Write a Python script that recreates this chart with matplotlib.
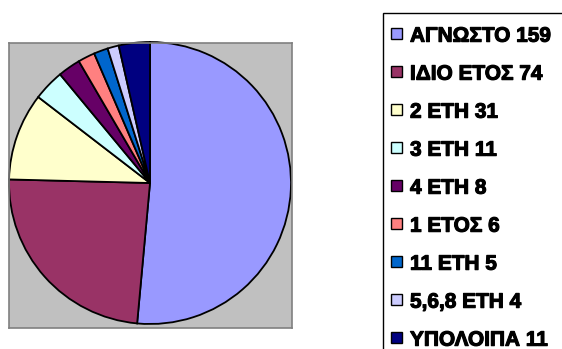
import matplotlib
matplotlib.use("Agg")
import matplotlib.pyplot as plt
import matplotlib.patheffects as pe
from matplotlib.patches import Rectangle
from matplotlib import font_manager as fm

categories = ["ΑΓΝΩΣΤΟ", "ΙΔΙΟ ΕΤΟΣ", "2 ΕΤΗ", "3 ΕΤΗ", "4 ΕΤΗ",
              "1 ΕΤΟΣ", "11 ΕΤΗ", "5,6,8 ΕΤΗ", "ΥΠΟΛΟΙΠΑ"]
values = [159, 74, 31, 11, 8, 6, 5, 4, 11]
colors = ["#9999FF", "#993366", "#FFFFCC", "#CCFFFF", "#660066",
          "#FF8080", "#0066CC", "#CCCCFF", "#000080"]

W, H = 562, 349
fig = plt.figure(figsize=(W / 100, H / 100), dpi=100)
fig.patch.set_facecolor("white")

# plot area (pixel box converted to figure fractions)
x0, y0, x1, y1 = 9, 43, 292, 328
ax = fig.add_axes([x0 / W, 1 - y1 / H, (x1 - x0) / W, (y1 - y0) / H])
ax.set_facecolor("#C0C0C0")
for s in ax.spines.values():
    s.set_color("#808080")
    s.set_linewidth(1.2)

ax.pie(values, colors=colors, startangle=90, counterclock=False,
       radius=1.0, wedgeprops=dict(edgecolor="black", linewidth=1.3))
ax.set_aspect("auto")
cx, cy, r = 150, 183, 141
ax.set_xlim((x0 - cx) / r, (x1 - cx) / r)
ax.set_ylim((cy - y1) / r, (cy - y0) / r)
ax.set_xticks([])
ax.set_yticks([])
ax.set_frame_on(True)

# heavy bold sans face for the legend text
bold_path = fm.findfont(fm.FontProperties(family="Liberation Sans", weight="bold"))
legend_font = fm.FontProperties(fname=bold_path, size=15)
effects = [pe.withStroke(linewidth=0.8, foreground="black")]

# legend drawn as a boxed list on the right
fig.add_artist(Rectangle((383 / W, -0.1), 1.0, (H - 13) / H + 0.1,
                         transform=fig.transFigure, fill=False,
                         edgecolor="black", linewidth=1.0, clip_on=False))
row0, step, sq = 33.7, 38.0, 11
for i, (name, v, c) in enumerate(zip(categories, values, colors)):
    yc = row0 + i * step
    fig.add_artist(Rectangle((391 / W, 1 - (yc + sq / 2) / H), sq / W, sq / H,
                             transform=fig.transFigure, facecolor=c,
                             edgecolor="black", linewidth=1.0))
    fig.text(410 / W, 1 - (yc + 0.5) / H, f"{name} {v}", ha="left",
             va="center_baseline", fontproperties=legend_font,
             path_effects=effects)

fig.savefig("out.png", dpi=100)
